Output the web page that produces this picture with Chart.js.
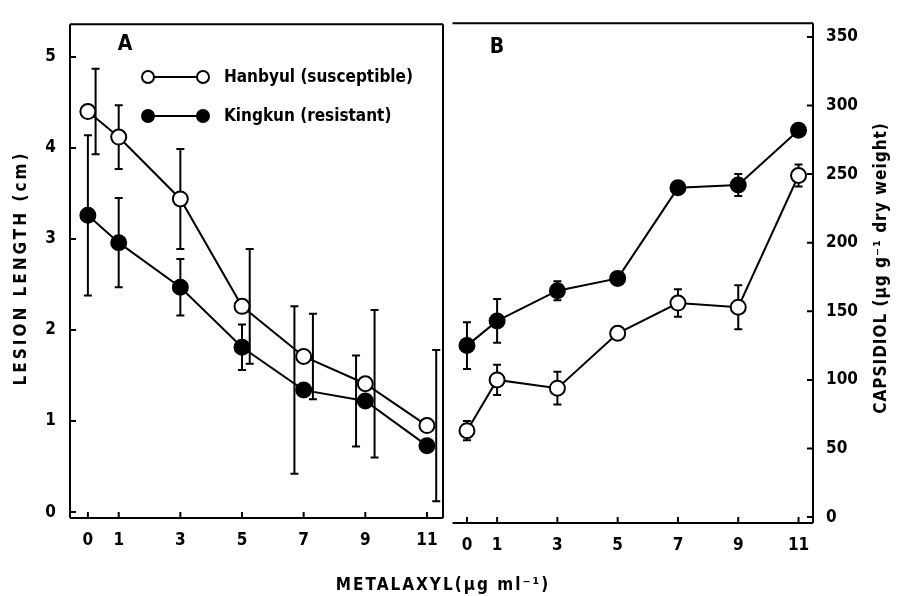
<!DOCTYPE html>
<html>
<head>
<meta charset="utf-8">
<script src="https://cdn.jsdelivr.net/npm/chart.js@4/dist/chart.umd.min.js"></script>
<style>
  html, body { margin: 0; padding: 0; background: #fff; }
  #wrap { position: relative; width: 897px; height: 596px; }
  #chart-a { position: absolute; left: 0; top: 0; }
  #chart-b { position: absolute; left: 443px; top: 0; }
</style>
</head>
<body>
<div id="wrap">
  <canvas id="chart-a" width="897" height="596"></canvas>
  <canvas id="chart-b" width="454" height="596"></canvas>
</div>
<script>
// metalaxyl doses (ug/ml)
const doses = [0, 1, 3, 5, 7, 9, 11];

// panel A - lesion length (cm)
const lesionHanbyul = [4.40, 4.12, 3.44, 2.26, 1.71, 1.41, 0.95];
const lesionHanbyulErr = [0.47, 0.35, 0.55, 0.63, 0.47, 0.81, 0.83];
const lesionKingkun = [3.26, 2.96, 2.47, 1.81, 1.34, 1.22, 0.73];
const lesionKingkunErr = [0.88, 0.49, 0.31, 0.25, 0.92, 0.50, 0];

// panel B - capsidiol (ug/g dry weight)
const capsHanbyul = [63, 100, 94, 134, 156, 153, 249];
const capsHanbyulErr = [7, 11, 12, 0, 10, 16, 8];
const capsKingkun = [125, 143, 165, 174, 240, 242, 282];
const capsKingkunErr = [17, 16, 7, 0, 0, 8, 0];

// error bars in the figure are nudged sideways (dose units)
const hanbyulShiftA = [0.25, 0, 0, 0.25, 0.3, 0.3, 0.3];
const kingkunShiftA = [0, 0, 0, 0, -0.3, -0.3, 0];

const lesionTicks = [0, 1, 2, 3, 4, 5];
const capsTicks = [0, 50, 100, 150, 200, 250, 300, 350];

const FONT = "'DejaVu Sans Condensed', 'DejaVu Sans', sans-serif";
Chart.defaults.color = '#000';
Chart.defaults.font.family = FONT;

function pts(xs, ys) {
  return xs.map((x, i) => ({ x: x, y: ys[i] }));
}

const errorBars = {
  id: 'errorBars',
  beforeDatasetsDraw(chart) {
    const ctx = chart.ctx;
    const sx = chart.scales.x, sy = chart.scales.y;
    ctx.save();
    ctx.strokeStyle = '#000';
    ctx.lineWidth = 2;
    chart.data.datasets.forEach(ds => {
      ds.data.forEach((p, i) => {
        const e = ds.err[i];
        if (!e) return;
        const shift = ds.shift ? ds.shift[i] : 0;
        const px = sx.getPixelForValue(p.x + shift);
        const top = sy.getPixelForValue(p.y + e);
        const bot = sy.getPixelForValue(p.y - e);
        ctx.beginPath();
        ctx.moveTo(px, top); ctx.lineTo(px, bot);
        ctx.moveTo(px - 4, top); ctx.lineTo(px + 4, top);
        ctx.moveTo(px - 4, bot); ctx.lineTo(px + 4, bot);
        ctx.stroke();
      });
    });
    ctx.restore();
  }
};

// frame + inward tick marks
const frame = {
  id: 'frame',
  afterDraw(chart, args, opts) {
    const ctx = chart.ctx;
    const a = chart.chartArea;
    const sx = chart.scales.x, sy = chart.scales.y;
    ctx.save();
    ctx.strokeStyle = '#000';
    ctx.lineWidth = 2;
    ctx.beginPath();
    if (opts.left) { ctx.moveTo(a.left, a.top); ctx.lineTo(a.left, a.bottom); }
    ctx.moveTo(a.left, a.bottom); ctx.lineTo(a.right, a.bottom);
    ctx.moveTo(a.left, a.top); ctx.lineTo(a.right, a.top);
    ctx.moveTo(a.right, a.top); ctx.lineTo(a.right, a.bottom);
    sx.ticks.forEach(t => {
      const px = sx.getPixelForValue(t.value);
      ctx.moveTo(px, a.bottom); ctx.lineTo(px, a.bottom - 6);
    });
    sy.ticks.forEach(t => {
      const py = sy.getPixelForValue(t.value);
      if (sy.position === 'left') {
        ctx.moveTo(a.left, py); ctx.lineTo(a.left + 6, py);
      } else {
        ctx.moveTo(a.right, py); ctx.lineTo(a.right - 6, py);
      }
    });
    ctx.stroke();
    ctx.restore();
  }
};

function drawCircle(ctx, x, y, r, filled) {
  ctx.beginPath();
  ctx.arc(x, y, r, 0, Math.PI * 2);
  ctx.fillStyle = filled ? '#000' : '#fff';
  ctx.fill();
  ctx.stroke();
}

const labelsA = {
  id: 'labelsA',
  afterDraw(chart) {
    const ctx = chart.ctx;
    ctx.save();
    ctx.fillStyle = '#000';
    ctx.strokeStyle = '#000';
    ctx.lineWidth = 2;
    ctx.textBaseline = 'middle';

    ctx.font = 'bold 21px ' + FONT;
    ctx.textAlign = 'center';
    ctx.fillText('A', 125, 45);

    // legend
    [[77, false, 'Hanbyul (susceptible)'], [116, true, 'Kingkun (resistant)']].forEach(row => {
      const y = row[0];
      ctx.beginPath();
      ctx.moveTo(148, y); ctx.lineTo(203, y);
      ctx.stroke();
      drawCircle(ctx, 148, y, 6, row[1]);
      drawCircle(ctx, 203, y, 6, row[1]);
      ctx.fillStyle = '#000';
      ctx.font = 'bold 17px ' + FONT;
      ctx.textAlign = 'left';
      ctx.fillText(row[2], 224, y + 1);
    });

    // axis titles
    ctx.font = 'bold 17px ' + FONT;
    ctx.textAlign = 'center';
    ctx.letterSpacing = '2px';
    ctx.fillText('METALAXYL(\u00b5g ml\u207b\u00b9)', 443, 586);
    ctx.letterSpacing = '3px';
    ctx.translate(22, 268);
    ctx.rotate(-Math.PI / 2);
    ctx.fillText('LESION LENGTH (cm)', 0, 0);
    ctx.restore();
  }
};

const labelsB = {
  id: 'labelsB',
  afterDraw(chart) {
    const ctx = chart.ctx;
    ctx.save();
    ctx.fillStyle = '#000';
    ctx.textBaseline = 'middle';
    ctx.textAlign = 'center';
    ctx.font = 'bold 21px ' + FONT;
    ctx.fillText('B', 497 - 443, 48);
    ctx.font = 'bold 17px ' + FONT;
    ctx.letterSpacing = '1px';
    ctx.translate(882 - 443, 268);
    ctx.rotate(-Math.PI / 2);
    ctx.fillText('CAPSIDIOL (\u00b5g g\u207b\u00b9 dry weight)', 0, 0);
    ctx.restore();
  }
};

const tickFont = { family: FONT, size: 17, weight: 'bold' };

function makeDatasets(han, hanErr, king, kingErr, hanShift, kingShift) {
  const base = {
    showLine: true,
    borderColor: '#000',
    borderWidth: 2,
    pointRadius: 7.5,
    pointBorderWidth: 2,
    pointBorderColor: '#000'
  };
  return [
    Object.assign({}, base, {
      label: 'Kingkun (resistant)',
      data: pts(doses, king),
      err: kingErr,
      shift: kingShift,
      pointBackgroundColor: '#000'
    }),
    Object.assign({}, base, {
      label: 'Hanbyul (susceptible)',
      data: pts(doses, han),
      err: hanErr,
      shift: hanShift,
      pointBackgroundColor: '#fff'
    })
  ];
}

function xScale(min, max, height) {
  return {
    type: 'linear',
    min: min,
    max: max,
    afterBuildTicks: s => { s.ticks = doses.map(v => ({ value: v })); },
    afterFit: s => { s.height = height; },
    grid: { display: false, drawTicks: false },
    border: { display: false },
    ticks: { padding: 12, font: tickFont, autoSkip: false, maxRotation: 0 }
  };
}

function yScale(min, max, ticks, pos, width, pad) {
  return {
    type: 'linear',
    position: pos,
    min: min,
    max: max,
    afterBuildTicks: s => { s.ticks = ticks.map(v => ({ value: v })); },
    afterFit: s => { s.width = width; },
    grid: { display: false, drawTicks: false },
    border: { display: false },
    ticks: { padding: pad, font: tickFont }
  };
}

new Chart(document.getElementById('chart-a'), {
  type: 'scatter',
  data: {
    datasets: makeDatasets(lesionHanbyul, lesionHanbyulErr, lesionKingkun, lesionKingkunErr,
      hanbyulShiftA, kingkunShiftA)
  },
  options: {
    responsive: false,
    animation: false,
    layout: { padding: { top: 15, right: 454, left: 0, bottom: 0 } },
    plugins: { legend: { display: false }, tooltip: { enabled: false }, frame: { left: true } },
    scales: {
      x: xScale(-0.58, 11.52, 78),
      y: yScale(-0.065, 5.36, lesionTicks, 'left', 70, 14)
    }
  },
  plugins: [errorBars, frame, labelsA]
});

new Chart(document.getElementById('chart-b'), {
  type: 'scatter',
  data: {
    datasets: makeDatasets(capsHanbyul, capsHanbyulErr, capsKingkun, capsKingkunErr, null, null)
  },
  options: {
    responsive: false,
    animation: false,
    layout: { padding: { top: 18, right: 0, left: 0, bottom: 0 } },
    plugins: { legend: { display: false }, tooltip: { enabled: false }, frame: { left: false } },
    scales: {
      x: xScale(-0.48, 11.48, 73),
      y: yScale(-4.3, 360, capsTicks, 'right', 84, 13)
    }
  },
  plugins: [errorBars, frame, labelsB]
});
</script>
</body>
</html>
